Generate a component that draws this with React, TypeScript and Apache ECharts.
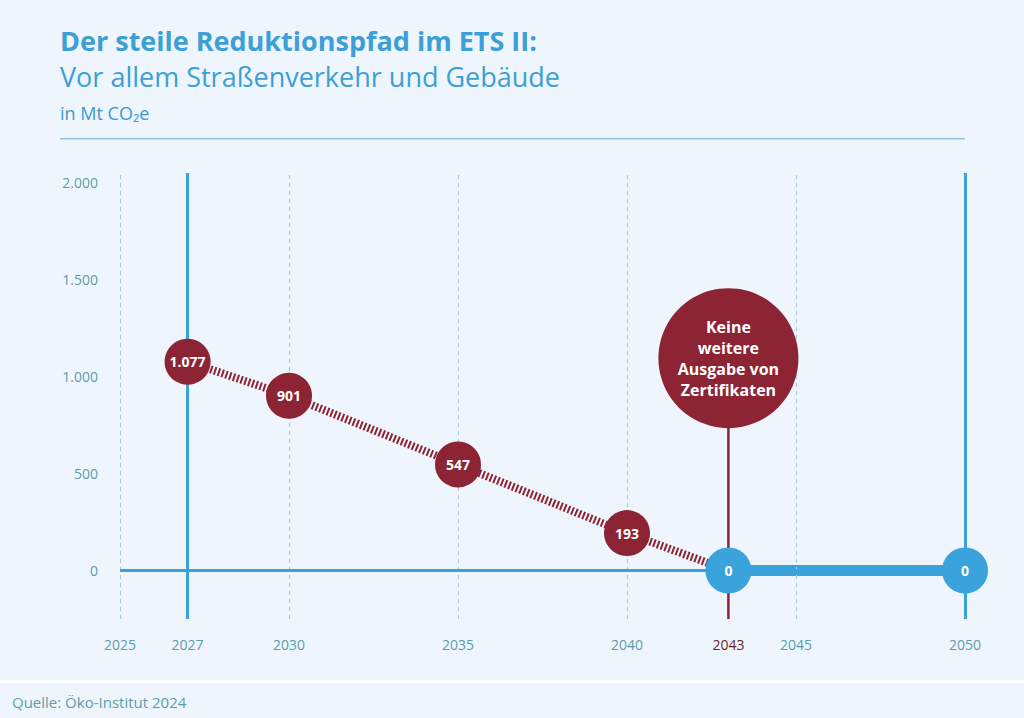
import React, { useEffect, useRef } from "react";
import * as echarts from "echarts";

const years = [2027, 2030, 2035, 2040, 2043];
const values = [1077, 901, 547, 193, 0];
const zeroYears = [2043, 2050];
const zeroValues = [0, 0];
const xTickLabels = [2025, 2027, 2030, 2035, 2040, 2043, 2045, 2050];
const dashedYears = [2025, 2030, 2035, 2040, 2045];
const solidYears = [2027, 2050];
const stopYear = 2043;
const annotationValue = 1095;
const annotationText = "Keine\nweitere\nAusgabe von\nZertifikaten";
const yTickLabels = [0, 500, 1000, 1500, 2000];

const RED = "#8c2433";
const BLUE = "#3ba3db";
const TEAL = "#5d9cad";
const BG = "#eef5fc";
const FONT = "'Open Sans', 'Noto Sans', sans-serif";

const fmt = (v: number) => String(v).replace(/\B(?=(\d{3})+(?!\d))/g, ".");

export default function App() {
  const ref = useRef<HTMLDivElement>(null);
  useEffect(() => {
    if (!ref.current) return;
    const chart = echarts.init(ref.current, undefined, { renderer: "svg" });
    const pathData = years.map((y, i) => [y, values[i]]);
    const redBubbles = pathData.filter((d) => d[1] > 0);
    const zeroData = zeroYears.map((y, i) => [y, zeroValues[i]]);
    chart.setOption({
      animation: false,
      backgroundColor: BG,
      textStyle: { fontFamily: FONT },
      grid: { left: 120, right: 59, top: 173, bottom: 99 },
      xAxis: {
        type: "value",
        min: 2025,
        max: 2050,
        interval: 1,
        axisLine: { show: false },
        axisTick: { show: false },
        splitLine: { show: false },
        axisLabel: {
          margin: 18,
          fontSize: 14,
          color: TEAL,
          fontFamily: FONT,
          formatter: (v: number) =>
            xTickLabels.includes(v) ? (v === stopYear ? `{r|${v}}` : `${v}`) : "",
          rich: { r: { color: "#6b1d28", fontSize: 14, fontFamily: FONT } },
        },
      },
      yAxis: {
        type: "value",
        min: -250,
        max: 2050,
        interval: 250,
        axisLine: { show: false },
        axisTick: { show: false },
        splitLine: { show: false },
        axisLabel: {
          margin: 22,
          fontSize: 14,
          color: TEAL,
          fontFamily: FONT,
          formatter: (v: number) => (yTickLabels.includes(v) ? fmt(v) : ""),
        },
      },
      graphic: [
        { type: "rect", shape: { x: 0, y: 680, width: 1024, height: 3 }, style: { fill: "#ffffff" } },
        {
          type: "text", left: 60, top: 27,
          style: { text: "Der steile Reduktionspfad im ETS II:", fontSize: 27, fontWeight: "bold", fill: "#3c9fd5", fontFamily: FONT },
        },
        {
          type: "text", left: 60, top: 63,
          style: { text: "Vor allem Straßenverkehr und Gebäude", fontSize: 27, fill: "#3c9fd5", fontFamily: FONT },
        },
        {
          type: "text", left: 60, top: 104,
          style: { text: "in Mt CO₂e", fontSize: 18, fill: "#3a9ad0", fontFamily: FONT },
        },
        { type: "rect", shape: { x: 60, y: 138, width: 905, height: 1.5 }, style: { fill: "#8ec6e2" } },
        {
          type: "text", left: 12, top: 694,
          style: { text: "Quelle: Öko-Institut 2024", fontSize: 15, fill: TEAL, fontFamily: FONT },
        },
      ],
      series: [
        {
          type: "line",
          data: [],
          silent: true,
          markLine: {
            symbol: "none",
            silent: true,
            label: { show: false },
            data: [
              ...dashedYears.map((y) => ({ xAxis: y, lineStyle: { color: "#a8cbdb", width: 1.2, type: [4, 4] } })),
              ...solidYears.map((y) => ({ xAxis: y, lineStyle: { color: BLUE, width: 3, type: "solid" } })),
              { yAxis: 0, lineStyle: { color: BLUE, width: 3, type: "solid" } },
            ],
          },
          z: 1,
        },
        {
          type: "line",
          data: [[stopYear, -250], [stopYear, annotationValue]],
          symbol: "none",
          lineStyle: { color: RED, width: 2.5 },
          z: 2,
          silent: true,
        },
        {
          type: "line",
          data: zeroData,
          symbol: "none",
          lineStyle: { color: BLUE, width: 11 },
          z: 3,
          silent: true,
        },
        {
          type: "line",
          data: pathData,
          symbol: "none",
          lineStyle: { color: RED, width: 8, type: [2, 2] },
          z: 3,
          silent: true,
        },
        {
          type: "scatter",
          data: redBubbles,
          symbolSize: 46,
          itemStyle: { color: RED, opacity: 1 },
          label: {
            show: true, position: "inside", color: "#fff", fontWeight: "bold", fontSize: 14, fontFamily: FONT,
            formatter: (p: any) => fmt(p.value[1]),
          },
          z: 5,
        },
        {
          type: "scatter",
          data: zeroData,
          symbolSize: 46,
          itemStyle: { color: BLUE, opacity: 1 },
          label: {
            show: true, position: "inside", color: "#fff", fontWeight: "bold", fontSize: 14, fontFamily: FONT,
            formatter: (p: any) => fmt(p.value[1]),
          },
          z: 5,
        },
        {
          type: "scatter",
          data: [[stopYear, annotationValue]],
          symbolSize: 140,
          itemStyle: { color: RED, opacity: 1 },
          label: {
            show: true, position: "inside", color: "#fff", fontWeight: "bold", fontSize: 16, lineHeight: 21,
            fontFamily: FONT, align: "center",
            formatter: () => annotationText,
          },
          z: 5,
        },
      ],
    });
    return () => chart.dispose();
  }, []);
  return (
    <div
      ref={ref}
      style={{ position: "fixed", left: 0, top: 0, width: 1024, height: 718 }}
    />
  );
}
